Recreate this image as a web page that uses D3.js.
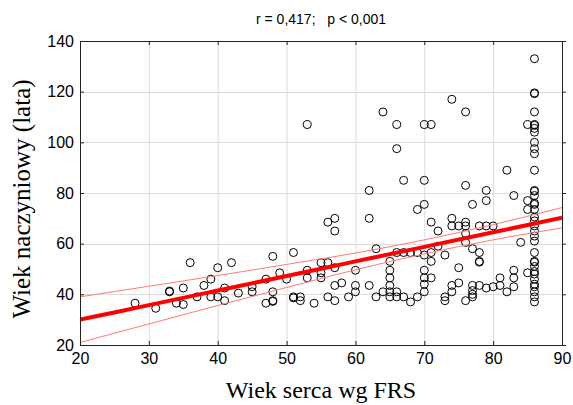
<!DOCTYPE html>
<html><head><meta charset="utf-8">
<script src="https://cdn.jsdelivr.net/npm/d3@7"></script>
<style>body{margin:0;background:#fff}svg{display:block}</style>
</head><body>
<svg id="c" width="573" height="405"></svg>
<script>
// Heart age (FRS) values, x
const heartAge = [28,31,33,33,34,35,35,36,37,38,39,39,40,40,41,41,42,43,45,45,47,47,48,48,48,48,49,50,51,51,51,52,52,53,53,53,54,55,55,55,56,56,56,57,57,57,57,57,58,59,60,60,60,62,62,62,63,63,64,64,65,65,65,65,65,65,66,66,66,66,66,67,67,67,68,68,69,69,69,70,70,70,70,70,70,70,70,71,71,71,71,71,72,72,73,73,73,74,74,74,74,74,75,75,75,76,76,76,76,76,76,76,77,77,77,77,77,77,78,78,78,78,78,79,79,79,79,80,80,81,81,82,82,83,83,83,83,84,85,85,85,85,
86,86,86,86,86,86,86,86,86,86,86,86,86,86,86,86,86,86,86,86,86,86,86,86,86,86,86,86,86,86,86,86,86,86,86,86];
// Vascular age, y
const vascAge = [36.5,34.5,41,41.3,36.5,42.5,36,52.5,39,43.5,46,39,50.5,39,42.5,37.5,52.5,40.5,43,41,36.5,46,55,41,37.5,37.2,48.5,46,56.5,39,38.6,39,37.5,49.5,46.5,107,36.5,52.5,48.5,46.5,52.5,68.5,39,70,65,50.5,43.5,37.5,44.5,39,49.5,43.5,41,81,70,43.5,58,39,112,41,53,49.5,46.5,43.5,41,39,107,97.5,56.5,41,39,85,56.5,39,56.5,37,73.5,56.5,39,107,85,75.5,55.5,49.5,46.5,44,41,107,68.5,56.5,53,46.5,65,59,55.5,39,37.5,117,70,67,43.5,41,67,50.5,44.5,112,83,68.5,67,64,60.5,37.5,75.5,58,43.5,41.5,40,39,67,56.5,53,52.7,43.5,81,77,67,42.5,67,43,46.5,43.5,89,41,79,49.5,46.5,43,60.5,107,77,73.5,48.5,
133,119.5,119.2,112,107,106.7,105.5,104,100,97.5,95.5,89,81,80.7,79,76,75.5,73.5,70.5,69,67,65,63,61,56.5,53,52.7,51,49,48,46,44,43,41,39,37];
// Regression line and confidence band
const bandX = [20,30,40,50,60,70,80,90];
const fitY = [30.0,35.75,41.5,47.25,53.0,58.75,64.5,70.25];
const upperY = [39.0,43.2,47.4,51.8,56.3,61.5,67.5,74.25];
const lowerY = [21.0,28.3,35.6,42.7,49.7,56.0,61.5,66.25];
const xTicks = [20,30,40,50,60,70,80,90];
const yTicks = [20,40,60,80,100,120,140];
const title = "r = 0,417;   p < 0,001";
const xTitle = "Wiek serca wg FRS";
const yTitle = "Wiek naczyniowy (lata)";

const svg = d3.select("#c");
const L=80,R=562,T=41,B=345;
const x = d3.scaleLinear().domain([20,90]).range([L,R]);
const y = d3.scaleLinear().domain([20,140]).range([B,T]);
const sans = "'Liberation Sans', Arial, sans-serif";
const serif = "'Liberation Serif', 'Times New Roman', serif";

// grid
const g = svg.append("g");
g.selectAll(".gx").data(xTicks.slice(1,-1)).enter().append("line")
  .attr("x1",d=>x(d)+0.5).attr("x2",d=>x(d)+0.5).attr("y1",T).attr("y2",B)
  .attr("stroke","#dcdcdc").attr("stroke-width",1);
g.selectAll(".gy").data(yTicks.slice(1,-1)).enter().append("line")
  .attr("y1",d=>Math.round(y(d))+0.5).attr("y2",d=>Math.round(y(d))+0.5).attr("x1",L).attr("x2",R)
  .attr("stroke","#dcdcdc").attr("stroke-width",1);

// clip
svg.append("clipPath").attr("id","clip").append("rect").attr("x",L).attr("y",T).attr("width",R-L).attr("height",B-T);
const plot = svg.append("g").attr("clip-path","url(#clip)");

// points
plot.selectAll("circle").data(heartAge.map((d,i)=>[d,vascAge[i]])).enter().append("circle")
  .attr("cx",d=>x(d[0])).attr("cy",d=>y(d[1])).attr("r",4)
  .attr("fill","none").attr("stroke","#000").attr("stroke-width",1);

// bands & fit
const mk = arr => d3.line().x((d,i)=>x(bandX[i])).y(d=>y(d)).curve(d3.curveMonotoneX)(arr);
plot.append("path").attr("d",mk(upperY)).attr("fill","none").attr("stroke","#ff7a7a").attr("stroke-width",1);
plot.append("path").attr("d",mk(lowerY)).attr("fill","none").attr("stroke","#ff7a7a").attr("stroke-width",1);
plot.append("path").attr("d",mk(fitY)).attr("fill","none").attr("stroke","#ff0000").attr("stroke-width",4);

// axes
const ax = svg.append("g").attr("transform",`translate(0,${B})`)
  .call(d3.axisBottom(x).tickValues(xTicks).tickSize(-4).tickPadding(8).tickFormat(d3.format("d")));
const ay = svg.append("g").attr("transform",`translate(${L},0)`)
  .call(d3.axisLeft(y).tickValues(yTicks).tickSize(-4).tickPadding(6).tickFormat(d3.format("d")));
const at = svg.append("g").attr("transform",`translate(0,${T})`)
  .call(d3.axisTop(x).tickValues(xTicks).tickSize(-4).tickFormat(""));
const ar = svg.append("g").attr("transform",`translate(${R},0)`)
  .call(d3.axisRight(y).tickValues(yTicks).tickSize(4).tickFormat(""));
[ax,ay,at,ar].forEach(a=>{
  a.select(".domain").attr("stroke","#222");
  a.selectAll(".tick line").attr("stroke","#222");
  a.selectAll("text").attr("font-family",sans).attr("font-size",16).attr("fill","#000");
});

svg.append("text").attr("x",(L+R)/2).attr("y",24).attr("text-anchor","middle")
  .attr("font-family",sans).attr("font-size",14).style("white-space","pre").text(title);
svg.append("text").attr("x",(L+R)/2).attr("y",398).attr("text-anchor","middle")
  .attr("font-family",serif).attr("font-size",24).text(xTitle);
svg.append("text").attr("transform",`translate(30,${(T+B)/2+6}) rotate(-90)`).attr("text-anchor","middle")
  .attr("font-family",serif).attr("font-size",25).text(yTitle);
</script>
</body></html>
